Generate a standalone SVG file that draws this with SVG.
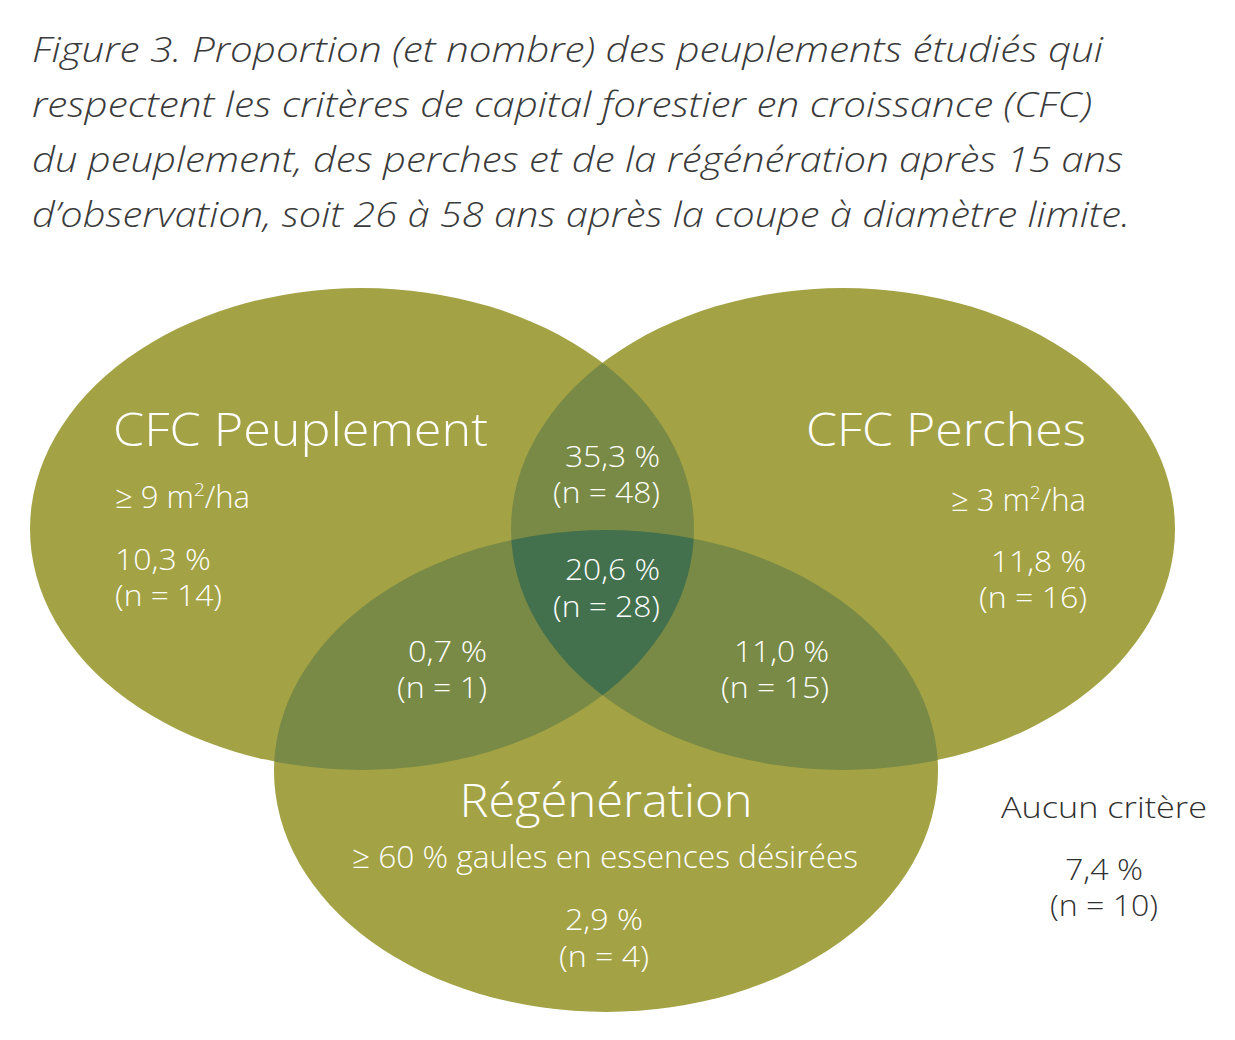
<svg xmlns="http://www.w3.org/2000/svg" width="1235" height="1040" viewBox="0 0 1235 1040">
<style>
.title{font-family:"Open Sans","Liberation Sans",sans-serif;font-style:italic;font-size:35px;fill:#3a3a3a;font-weight:300}
.w{font-family:"Open Sans","Liberation Sans",sans-serif;fill:#ffffff;font-weight:300}
.big{font-size:46px}
.mid{font-size:31px}
.num{font-size:30px}
.dark{font-family:"Open Sans","Liberation Sans",sans-serif;fill:#2f2f2f;font-size:30px;font-weight:300}
.base{fill:#a3a245}
.two{fill:#788a45}
.three{fill:#43704d}
</style>
<defs>
<ellipse id="e1" cx="362" cy="529" rx="332" ry="241"/>
<ellipse id="e2" cx="843" cy="529" rx="332" ry="241"/>
<ellipse id="e3" cx="606" cy="771" rx="332" ry="241"/>
<clipPath id="c1"><use href="#e1"/></clipPath>
<clipPath id="c2"><use href="#e2"/></clipPath>
<clipPath id="c3"><use href="#e3"/></clipPath>
</defs>
<rect width="1235" height="1040" fill="#ffffff"/>
<g id="title">
<text class="title" x="32" y="62" textLength="1071" lengthAdjust="spacingAndGlyphs">Figure 3. Proportion (et nombre) des peuplements étudiés qui</text>
<text class="title" x="32" y="117" textLength="1060" lengthAdjust="spacingAndGlyphs">respectent les critères de capital forestier en croissance (CFC)</text>
<text class="title" x="32" y="172" textLength="1091" lengthAdjust="spacingAndGlyphs">du peuplement, des perches et de la régénération après 15 ans</text>
<text class="title" x="32" y="227" textLength="1098" lengthAdjust="spacingAndGlyphs">d’observation, soit 26 à 58 ans après la coupe à diamètre limite.</text>
</g>
<g id="circles">
<use href="#e1" class="base"/>
<use href="#e2" class="base"/>
<use href="#e3" class="base"/>
<g clip-path="url(#c2)"><use href="#e1" class="two"/></g>
<g clip-path="url(#c3)"><use href="#e1" class="two"/></g>
<g clip-path="url(#c3)"><use href="#e2" class="two"/></g>
<g clip-path="url(#c3)"><g clip-path="url(#c2)"><use href="#e1" class="three"/></g></g>
</g>
<g id="peuplement">
<text class="w big" x="113" y="446" textLength="375" lengthAdjust="spacingAndGlyphs">CFC Peuplement</text>
<text class="w mid" x="115" y="508">≥ 9 m<tspan font-size="19" dy="-12">2</tspan><tspan dy="12">/ha</tspan></text>
<text class="w num" x="115" y="570" textLength="96" lengthAdjust="spacingAndGlyphs">10,3 %</text>
<text class="w num" x="115" y="606" textLength="107" lengthAdjust="spacingAndGlyphs">(n = 14)</text>
</g>
<g id="perches" text-anchor="end">
<text class="w big" x="1086" y="446" textLength="280" lengthAdjust="spacingAndGlyphs">CFC Perches</text>
<text class="w mid" x="1086" y="511">≥ 3 m<tspan font-size="19" dy="-12">2</tspan><tspan dy="12">/ha</tspan></text>
<text class="w num" x="1086" y="572" textLength="95" lengthAdjust="spacingAndGlyphs">11,8 %</text>
<text class="w num" x="1087" y="608" textLength="108" lengthAdjust="spacingAndGlyphs">(n = 16)</text>
</g>
<g id="regeneration" text-anchor="middle">
<text class="w big" x="606" y="817" textLength="293" lengthAdjust="spacingAndGlyphs">Régénération</text>
<text class="w mid" x="605" y="868" textLength="506" lengthAdjust="spacingAndGlyphs">≥ 60 % gaules en essences désirées</text>
<text class="w num" x="604" y="930" textLength="78" lengthAdjust="spacingAndGlyphs">2,9 %</text>
<text class="w num" x="604" y="967" textLength="90" lengthAdjust="spacingAndGlyphs">(n = 4)</text>
</g>
<g id="peuplement-perches" text-anchor="end">
<text class="w num" x="660" y="467" textLength="95" lengthAdjust="spacingAndGlyphs">35,3 %</text>
<text class="w num" x="660" y="503" textLength="107" lengthAdjust="spacingAndGlyphs">(n = 48)</text>
</g>
<g id="all-three" text-anchor="end">
<text class="w num" x="660" y="580" textLength="95" lengthAdjust="spacingAndGlyphs">20,6 %</text>
<text class="w num" x="660" y="617" textLength="107" lengthAdjust="spacingAndGlyphs">(n = 28)</text>
</g>
<g id="peuplement-regeneration" text-anchor="end">
<text class="w num" x="487" y="662" textLength="79" lengthAdjust="spacingAndGlyphs">0,7 %</text>
<text class="w num" x="487" y="698" textLength="90" lengthAdjust="spacingAndGlyphs">(n = 1)</text>
</g>
<g id="perches-regeneration" text-anchor="end">
<text class="w num" x="829" y="662" textLength="95" lengthAdjust="spacingAndGlyphs">11,0 %</text>
<text class="w num" x="829" y="698" textLength="108" lengthAdjust="spacingAndGlyphs">(n = 15)</text>
</g>
<g id="aucun" text-anchor="middle">
<text class="dark" x="1104" y="818" textLength="206" lengthAdjust="spacingAndGlyphs">Aucun critère</text>
<text class="dark" x="1104" y="880" textLength="78" lengthAdjust="spacingAndGlyphs">7,4 %</text>
<text class="dark" x="1104" y="916" textLength="108" lengthAdjust="spacingAndGlyphs">(n = 10)</text>
</g>
<g id="connectors"/>
</svg>
